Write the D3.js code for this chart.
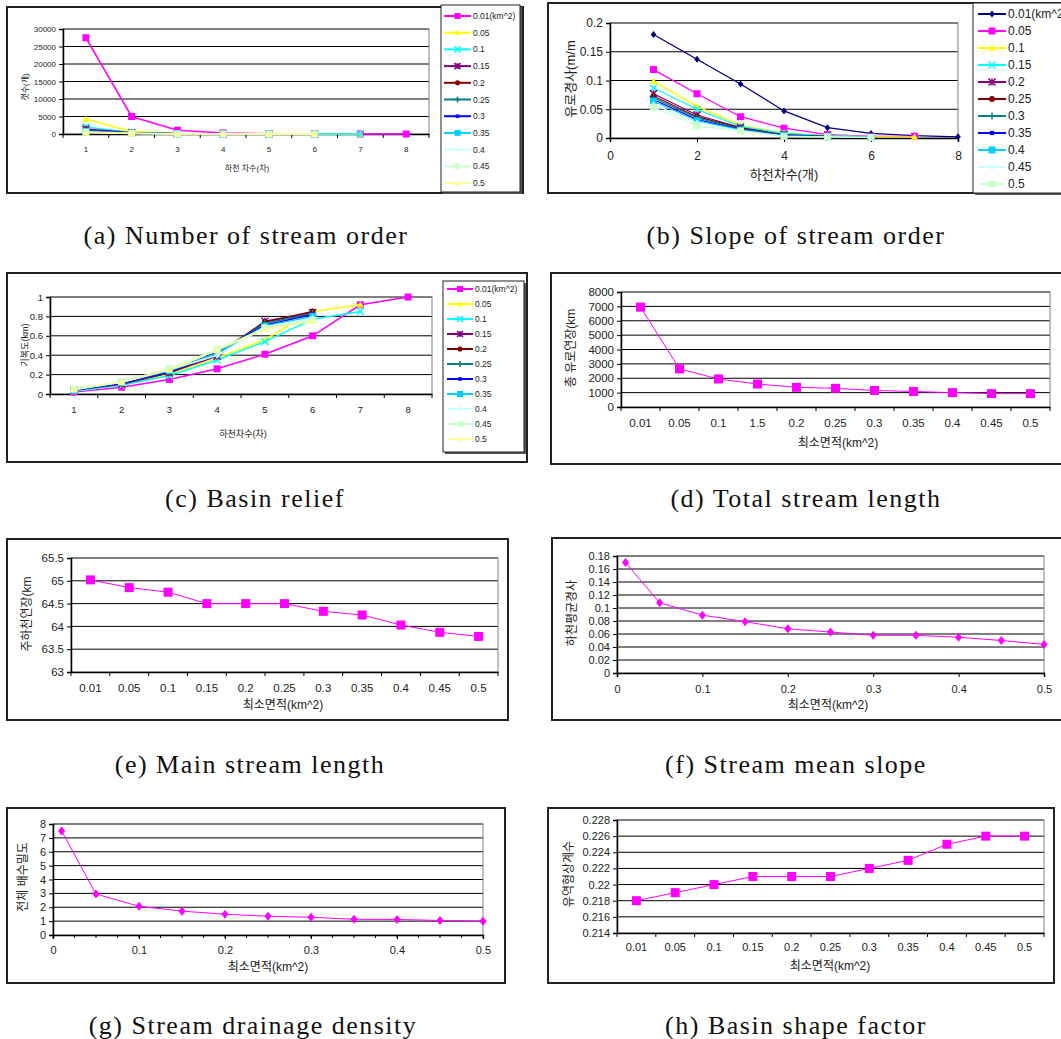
<!DOCTYPE html>
<html>
<head>
<meta charset="utf-8">
<script src="https://cdn.jsdelivr.net/npm/d3@7"></script>
<style>
  body { margin: 0; background: #fff; }
  text { font-family: "Liberation Sans", "Noto Sans CJK KR", sans-serif; fill: #222; }
  .caption { font-family: "Liberation Serif", serif; fill: #111; letter-spacing: 1.5px; }
</style>
</head>
<body>
<svg id="fig" width="1061" height="1039"></svg>
<script>
// ---- data ----
const orderCats = [1, 2, 3, 4, 5, 6, 7, 8]
const areaNames = ['0.01', '0.05', '0.1', '0.15', '0.2', '0.25', '0.3', '0.35', '0.4', '0.45', '0.5']
const areaLabelsD = ['0.01', '0.05', '0.1', '1.5', '0.2', '0.25', '0.3', '0.35', '0.4', '0.45', '0.5']
const areaValues = [0.01, 0.05, 0.1, 0.15, 0.2, 0.25, 0.3, 0.35, 0.4, 0.45, 0.5]

// (a) number of streams per order, one row per minimum area
const streamCount = [
  [27500, 5000, 1100, 300, 80, 20, 5, 2],
  [4300, 700, 150, 40, 10, 3, 1],
  [2000, 450, 100, 25, 6, 2, 1],
  [1400, 350, 80, 20, 5, 1],
  [1000, 300, 70, 15, 4, 1],
  [900, 260, 60, 14, 4, 1],
  [800, 230, 55, 12, 3, 1],
  [700, 200, 50, 11, 3, 1],
  [600, 180, 45, 10, 3, 1],
  [500, 160, 40, 9, 2, 1],
  [400, 140, 35, 8, 2, 1]
]
// (b) slope per order (m/m)
const streamSlope = [
  [0.18, 0.137, 0.094, 0.047, 0.018, 0.008, 0.004, 0.002],
  [0.119, 0.077, 0.037, 0.017, 0.006, 0.003, 0.003],
  [0.099, 0.055, 0.022, 0.009, 0.004, 0.002, 0.002],
  [0.087, 0.05, 0.02, 0.008, 0.004, 0.002],
  [0.077, 0.04, 0.018, 0.006, 0.003, 0.002],
  [0.073, 0.037, 0.017, 0.005, 0.003, 0.002],
  [0.07, 0.035, 0.016, 0.005, 0.002, 0.002],
  [0.067, 0.032, 0.015, 0.004, 0.002, 0.001],
  [0.064, 0.03, 0.014, 0.004, 0.002, 0.001],
  [0.058, 0.026, 0.013, 0.003, 0.002, 0.001],
  [0.053, 0.021, 0.012, 0.003, 0.002, 0.001]
]
// (c) basin relief (km)
const basinRelief = [
  [0.02, 0.07, 0.15, 0.26, 0.41, 0.6, 0.92, 1.0],
  [0.03, 0.09, 0.2, 0.37, 0.56, 0.85, 0.92],
  [0.03, 0.09, 0.19, 0.35, 0.54, 0.77, 0.85],
  [0.04, 0.1, 0.22, 0.39, 0.75, 0.84],
  [0.04, 0.11, 0.22, 0.42, 0.74, 0.85],
  [0.04, 0.11, 0.23, 0.42, 0.73, 0.83],
  [0.04, 0.11, 0.23, 0.43, 0.71, 0.82],
  [0.04, 0.12, 0.24, 0.42, 0.7, 0.8],
  [0.05, 0.12, 0.25, 0.4, 0.69, 0.78],
  [0.05, 0.13, 0.26, 0.46, 0.68, 0.76],
  [0.05, 0.12, 0.25, 0.45, 0.67, 0.75]
]
const totalLength = [6950, 2650, 1950, 1600, 1370, 1300, 1150, 1080, 1000, 930, 930]
const mainLength = [65.02, 64.85, 64.75, 64.5, 64.5, 64.5, 64.33, 64.25, 64.03, 63.87, 63.78]
const meanSlope = [0.17, 0.108, 0.089, 0.079, 0.068, 0.063, 0.058, 0.058, 0.055, 0.05, 0.044]
const drainDensity = [7.5, 2.95, 2.07, 1.72, 1.5, 1.35, 1.28, 1.13, 1.12, 1.05, 1.0]
const shapeFactor = [0.218, 0.219, 0.22, 0.221, 0.221, 0.221, 0.222, 0.223, 0.225, 0.226, 0.226]

const ticksA = [0, 5000, 10000, 15000, 20000, 25000, 30000]
const ticksB = [0, 0.05, 0.1, 0.15, 0.2]
const ticksC = [0, 0.2, 0.4, 0.6, 0.8, 1]
const ticksD = [0, 1000, 2000, 3000, 4000, 5000, 6000, 7000, 8000]
const ticksE = [63, 63.5, 64, 64.5, 65, 65.5]
const ticksF = [0, 0.02, 0.04, 0.06, 0.08, 0.1, 0.12, 0.14, 0.16, 0.18]
const ticksG = [0, 1, 2, 3, 4, 5, 6, 7, 8]
const ticksH = [0.214, 0.216, 0.218, 0.22, 0.222, 0.224, 0.226, 0.228]
const ticksArea = [0, 0.1, 0.2, 0.3, 0.4, 0.5]
const ticksOrder = [0, 2, 4, 6, 8]

// excel default series styles
const excelStyles = [
  { color: '#FF00FF', shape: 'square' },
  { color: '#FFFF00', shape: 'triangle' },
  { color: '#00FFFF', shape: 'x' },
  { color: '#800080', shape: 'star' },
  { color: '#800000', shape: 'circle' },
  { color: '#008080', shape: 'plus' },
  { color: '#0000FF', shape: 'smallsq' },
  { color: '#00CCFF', shape: 'square' },
  { color: '#CCFFFF', shape: 'diamond' },
  { color: '#CCFFCC', shape: 'square' },
  { color: '#FFFF99', shape: 'triangle' }
]
const slopeStyles = [{ color: '#000080', shape: 'diamond' }].concat(excelStyles.slice(0, 10))

const svg = d3.select('#fig')

function drawMarker (g, shape, cx, cy, s, color) {
  const h = s / 2
  if (shape === 'square' || shape === 'smallsq') {
    const k = shape === 'smallsq' ? h * 0.6 : h
    g.append('rect').attr('x', cx - k).attr('y', cy - k).attr('width', 2 * k).attr('height', 2 * k)
      .attr('fill', color)
  } else if (shape === 'triangle') {
    g.append('path').attr('d', `M${cx},${cy - h}L${cx + h},${cy + h * 0.8}L${cx - h},${cy + h * 0.8}Z`)
      .attr('fill', color)
  } else if (shape === 'circle') {
    g.append('circle').attr('cx', cx).attr('cy', cy).attr('r', h * 0.85).attr('fill', color)
  } else if (shape === 'diamond') {
    g.append('path').attr('d', `M${cx},${cy - h}L${cx + h * 0.8},${cy}L${cx},${cy + h}L${cx - h * 0.8},${cy}Z`)
      .attr('fill', color)
  } else {
    let d = ''
    if (shape === 'x' || shape === 'star') d += `M${cx - h},${cy - h}L${cx + h},${cy + h}M${cx - h},${cy + h}L${cx + h},${cy - h}`
    if (shape === 'star') d += `M${cx},${cy - h}L${cx},${cy + h}`
    if (shape === 'plus') d += `M${cx - h},${cy}L${cx + h},${cy}M${cx},${cy - h}L${cx},${cy + h}`
    g.append('path').attr('d', d).attr('stroke', color).attr('stroke-width', 1.5).attr('fill', 'none')
  }
}

function fmt (v) { return String(+v.toFixed(4)) }

function drawPanel (c) {
  const g = svg.append('g')
  g.append('rect').attr('x', c.frame[0]).attr('y', c.frame[1])
    .attr('width', c.frame[2]).attr('height', c.frame[3])
    .attr('fill', '#fff').attr('stroke', '#222').attr('stroke-width', 2)

  const [x0, x1, y0, y1] = c.plot
  const y = d3.scaleLinear().domain([c.yTicks[0], c.yTicks[c.yTicks.length - 1]]).range([y1, y0])
  let x, px
  if (c.cats) {
    x = d3.scaleBand().domain(c.cats).range([x0, x1])
    px = i => x(c.cats[i]) + x.bandwidth() / 2
  } else {
    x = d3.scaleLinear().domain([c.xTicks[0], c.xTicks[c.xTicks.length - 1]]).range([x0, x1])
    px = i => x(c.xVals[i])
  }

  // gridlines + plot border
  g.selectAll('.grid').data(c.yTicks.slice(1)).join('line')
    .attr('x1', x0).attr('x2', x1).attr('y1', d => y(d)).attr('y2', d => y(d))
    .attr('stroke', '#000').attr('stroke-width', 1)
  g.append('rect').attr('x', x0).attr('y', y0).attr('width', x1 - x0).attr('height', y1 - y0)
    .attr('fill', 'none').attr('stroke', '#808080')

  // y axis
  const ya = g.append('g').attr('transform', `translate(${x0},0)`)
    .call(d3.axisLeft(y).tickValues(c.yTicks).tickSize(4).tickFormat(fmt))
  ya.selectAll('text').style('font-size', c.font + 'px')
  ya.select('.domain').attr('stroke', '#000').attr('stroke-width', 1.5)

  // x axis
  const xa = g.append('g').attr('transform', `translate(0,${y1})`)
  if (c.cats) {
    xa.call(d3.axisBottom(x).tickSize(0).tickFormat((d, i) => c.catLabels[i]))
    const bounds = d3.range(c.cats.length + 1).map(i => x0 + i * x.step())
    xa.selectAll('.bt').data(bounds).join('line')
      .attr('x1', d => d).attr('x2', d => d).attr('y1', 0).attr('y2', 4).attr('stroke', '#000')
  } else {
    xa.call(d3.axisBottom(x).tickValues(c.xTicks).tickSize(4).tickFormat(fmt))
    if (c.minor) {
      xa.selectAll('.mt').data(d3.range(0, 0.5001, c.minor)).join('line')
        .attr('x1', d => x(d)).attr('x2', d => x(d)).attr('y1', 0).attr('y2', 3).attr('stroke', '#000')
    }
  }
  xa.select('.domain').attr('stroke', '#000').attr('stroke-width', 1.5)
  xa.selectAll('text').style('font-size', c.font + 'px')
    .attr('y', c.xLabelY - y1).attr('dy', '0.35em')

  // titles
  g.append('text').attr('x', c.xTitle[0]).attr('y', c.xTitle[1]).attr('text-anchor', 'middle')
    .attr('dominant-baseline', 'central').style('font-size', c.titleFont + 'px').text(c.xText)
  g.append('text').attr('transform', `translate(${c.yTitle[0]},${c.yTitle[1]}) rotate(-90)`)
    .attr('text-anchor', 'middle').attr('dominant-baseline', 'central')
    .style('font-size', c.titleFont + 'px').text(c.yText)

  // series
  const line = d3.line().x(d => px(d[0])).y(d => y(d[1]))
  c.series.forEach((vals, si) => {
    const st = c.styles[si]
    const pts = vals.map((v, i) => [i, v])
    g.append('path').attr('d', line(pts)).attr('fill', 'none')
      .attr('stroke', st.color).attr('stroke-width', c.lineWidth)
    pts.forEach(p => drawMarker(g, st.shape, px(p[0]), y(p[1]), c.marker, st.color))
  })

  // legend
  if (c.legend) {
    const L = c.legend
    g.append('rect').attr('x', L.box[0] + 2).attr('y', L.box[1] + 2).attr('width', L.box[2]).attr('height', L.box[3])
      .attr('fill', '#555')
    g.append('rect').attr('x', L.box[0]).attr('y', L.box[1]).attr('width', L.box[2]).attr('height', L.box[3])
      .attr('fill', '#fff').attr('stroke', '#222').attr('stroke-width', 1)
    L.names.forEach((n, i) => {
      const ly = L.top + i * L.step
      const st = c.styles[i]
      g.append('line').attr('x1', L.lx[0]).attr('x2', L.lx[1]).attr('y1', ly).attr('y2', ly)
        .attr('stroke', st.color).attr('stroke-width', 2)
      drawMarker(g, st.shape, (L.lx[0] + L.lx[1]) / 2, ly, L.marker, st.color)
      g.append('text').attr('x', L.lx[1] + 2).attr('y', ly).attr('dominant-baseline', 'central')
        .style('font-size', L.font + 'px').text(n)
    })
  }
}

const legendNames = ['0.01(km^2)'].concat(areaNames.slice(1))

drawPanel({
  frame: [7, 7, 516, 186], plot: [63, 429, 29, 134], cats: orderCats, catLabels: orderCats,
  yTicks: ticksA, font: 8, xLabelY: 149, titleFont: 8,
  xTitle: [247, 168], xText: '하천 차수(차)', yTitle: [25, 87], yText: '갯수(개)',
  series: streamCount, styles: excelStyles, lineWidth: 1.5, marker: 7,
  legend: { box: [441, 5, 79, 187], names: legendNames, top: 16, step: 16.7, lx: [444, 471], marker: 6, font: 8.5 }
})
drawPanel({
  frame: [548, 3, 530, 190], plot: [610, 958, 23, 138], xTicks: ticksOrder, xVals: orderCats,
  yTicks: ticksB, font: 12, xLabelY: 156, titleFont: 13,
  xTitle: [784, 174], xText: '하천차수(개)', yTitle: [570, 79], yText: '유로경사(m/m',
  series: streamSlope, styles: slopeStyles, lineWidth: 1.3, marker: 7,
  legend: { box: [973, 3, 100, 190], names: legendNames, top: 14, step: 17, lx: [978, 1006], marker: 7, font: 12 }
})
drawPanel({
  frame: [7, 273, 520, 189], plot: [50, 432, 297, 394], cats: orderCats, catLabels: orderCats,
  yTicks: ticksC, font: 9.5, xLabelY: 410, titleFont: 9,
  xTitle: [243, 434], xText: '하천차수(차)', yTitle: [25, 345], yText: '기복도(km)',
  series: basinRelief, styles: excelStyles, lineWidth: 1.5, marker: 7,
  legend: { box: [443, 281, 81, 171], names: legendNames, top: 289, step: 15, lx: [447, 473], marker: 6, font: 8.5 }
})
drawPanel({
  frame: [551, 273, 520, 191], plot: [621, 1050, 292, 407], cats: areaNames, catLabels: areaLabelsD,
  yTicks: ticksD, font: 11.5, xLabelY: 423, titleFont: 12,
  xTitle: [838, 443], xText: '최소면적(km^2)', yTitle: [571, 348], yText: '총 유로연장(km',
  series: [totalLength], styles: excelStyles, lineWidth: 1, marker: 9
})
drawPanel({
  frame: [7, 539, 501, 181], plot: [71, 498, 558, 672], cats: areaNames, catLabels: areaNames,
  yTicks: ticksE, font: 11.5, xLabelY: 688, titleFont: 12,
  xTitle: [283, 705], xText: '최소면적(km^2)', yTitle: [27, 614], yText: '주하천연장(km',
  series: [mainLength], styles: excelStyles, lineWidth: 1, marker: 9
})
drawPanel({
  frame: [552, 538, 520, 182], plot: [617, 1044, 556, 673], xTicks: ticksArea, xVals: areaValues,
  yTicks: ticksF, font: 11, xLabelY: 689, titleFont: 12,
  xTitle: [828, 705], xText: '최소면적(km^2)', yTitle: [572, 613], yText: '하천평균경사',
  series: [meanSlope], styles: [{ color: '#FF00FF', shape: 'diamond' }], lineWidth: 1, marker: 9
})
drawPanel({
  frame: [7, 808, 498, 175], plot: [53, 483, 824, 935], xTicks: ticksArea, xVals: areaValues, minor: 0.025,
  yTicks: ticksG, font: 11, xLabelY: 950, titleFont: 12,
  xTitle: [268, 967], xText: '최소면적(km^2)', yTitle: [23, 877], yText: '전체 배수밀도',
  series: [drainDensity], styles: [{ color: '#FF00FF', shape: 'diamond' }], lineWidth: 1, marker: 9
})
drawPanel({
  frame: [548, 808, 506, 175], plot: [617, 1044, 820, 933], cats: areaNames, catLabels: areaNames,
  yTicks: ticksH, font: 11, xLabelY: 947, titleFont: 12,
  xTitle: [830, 966], xText: '최소면적(km^2)', yTitle: [569, 874], yText: '유역형상계수',
  series: [shapeFactor], styles: excelStyles, lineWidth: 1, marker: 9
})

// captions
const captions = [
  ['(a) Number of stream order', 246, 235], ['(b) Slope of stream order', 796, 235],
  ['(c) Basin relief', 255, 498], ['(d) Total stream length', 806, 498],
  ['(e) Main stream length', 250, 764], ['(f) Stream mean slope', 796, 764],
  ['(g) Stream drainage density', 253, 1025], ['(h) Basin shape factor', 796, 1025]
]
svg.selectAll('.caption').data(captions).join('text').attr('class', 'caption')
  .attr('x', d => d[1]).attr('y', d => d[2]).attr('text-anchor', 'middle')
  .attr('dominant-baseline', 'central').style('font-size', '26px').text(d => d[0])
</script>
</body>
</html>
